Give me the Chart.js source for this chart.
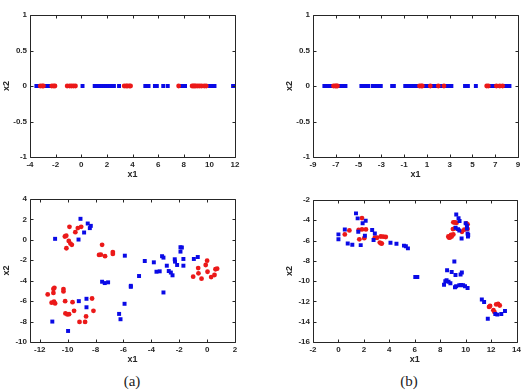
<!DOCTYPE html>
<html>
<head>
<meta charset="utf-8">
<script src="https://cdn.jsdelivr.net/npm/chart.js@4"></script>
<style>
  body { margin: 0; background: #fff; }
  #wrap { position: relative; width: 524px; height: 392px; overflow: hidden; }
  canvas { position: absolute; }
  .cap { position: absolute; font-family: "Liberation Serif", "DejaVu Serif", serif; font-size: 15px; color: #222; transform: translate(-50%, -50%); }
</style>
</head>
<body>
<div id="wrap">
  <canvas id="c1" width="245" height="180" style="left:0;top:0"></canvas>
  <canvas id="c2" width="241" height="180" style="left:283px;top:0"></canvas>
  <canvas id="c3" width="245" height="185" style="left:0;top:180px"></canvas>
  <canvas id="c4" width="241" height="185" style="left:283px;top:180px"></canvas>
  <div class="cap" style="left:132px;top:381px">(a)</div>
  <div class="cap" style="left:409px;top:381px">(b)</div>
</div>
<script>
// top row: 1-D points, all at x2 = 0
const redA1 = [-3.2, -3.05, -2.95, -2.3, -2.15, -2.05, -1.1, -0.9, -0.75, -0.6, -0.45,
  3.35, 3.5, 3.6, 3.75, 3.85, 7.6, 8.65, 8.75, 8.85, 8.95, 9.1, 9.25, 9.4, 9.6, 9.75];
const blueA1 = [-3.5, -3.4, -3.3, -3.1, -2.9, -2.6, -2.5, -2.4, -2.25, 0.1, 1.05, 1.25, 1.45,
  1.65, 1.8, 1.95, 2.1, 2.25, 2.4, 2.55, 2.95, 5.0, 5.25, 5.75, 5.9, 6.4, 6.75, 7.8, 7.95,
  8.1, 8.85, 9.2, 10.05, 10.2, 10.4, 11.85];

const redB1 = [-7.2, -7.05, -6.95, -6.85, 0.35, 0.5, 0.6, 1.3, 2.0, 2.5, 6.25, 6.4, 7.1, 7.4, 7.65];
const blueB1 = [-8.0, -7.8, -7.6, -7.45, -7.3, -6.6, -6.4, -6.15, -4.75, -4.55, -4.35, -4.15,
  -3.75, -3.55, -3.35, -3.05, -2.05, -1.9, -0.9, -0.7, -0.5, -0.3, -0.1, 0.1, 0.75, 0.95,
  1.15, 1.4, 1.6, 1.8, 2.05, 2.25, 2.45, 2.65, 2.9, 3.15, 4.35, 4.6, 5.3, 6.55, 6.75, 6.95,
  7.2, 7.5, 7.75, 8.0, 8.25];

// bottom row: 2-D points [x1, x2]
const redA2 = [[-9.87,1.28],[-9.03,1.28],[-9.27,1.15],[-9.45,0.75],[-10.2,0.33],[-10.1,0.4],
  [-9.92,-0.1],[-9.8,-0.36],[-9.7,-0.49],[-10.09,-0.82],
  [-7.53,-0.49],[-7.75,-1.48],[-7.62,-1.45],[-7.32,-1.6],[-6.76,-1.2],[-6.76,-1.38],
  [-10.95,-4.7],[-11.02,-4.8],[-10.3,-4.82],[-10.3,-5.05],[-11.02,-5.2],[-11.43,-5.34],
  [-11.15,-6.15],[-10.98,-6.05],[-10.9,-6.22],[-10.18,-6.0],[-9.65,-6.1],[-8.25,-5.74],
  [-8.15,-6.95],[-9.54,-6.95],[-10.16,-7.2],[-10.02,-7.3],[-9.9,-7.28],[-8.68,-7.5],
  [-9.15,-8.03],[-8.75,-8.03],
  [0.0,-2.04],[-0.1,-2.46],[-0.64,-2.76],[-1.0,-3.6],[-0.62,-3.28],[-0.4,-3.8],[0.03,-3.12],
  [0.29,-3.64],[0.53,-3.44],[0.6,-2.88],[0.72,-2.82]];
const blueA2 = [[-9.08,2.06],[-8.56,1.6],[-8.34,1.37],[-8.41,1.15],[-8.82,0.72],[-10.9,0.1],
  [-9.22,0.03],[-5.9,-1.55],[-7.53,-4.1],[-7.34,-4.23],[-7.1,-4.16],[-5.47,-4.5],[-5.47,-4.6],
  [-8.65,-5.77],[-9.2,-6.0],[-8.65,-6.6],[-5.92,-6.26],[-6.31,-7.25],[-6.21,-7.77],[-11.1,-8.0],
  [-9.97,-8.92],[-4.47,-2.07],[-3.82,-2.2],[-3.23,-1.6],[-3.13,-1.74],[-3.63,-3.12],[-3.4,-3.08],
  [-2.89,-2.53],[-2.75,-3.05],[-2.6,-3.2],[-2.48,-3.47],[-2.32,-1.9],[-2.3,-2.13],[-2.15,-2.46],
  [-1.91,-0.72],[-1.81,-0.75],[-1.91,-1.15],[-1.7,-1.87],[-1.7,-2.53],[-3.13,-5.15],[-4.88,-3.54],
  [-0.95,-1.87],[-0.67,-1.68]];

const redB2 = [[1.85,-3.78],[0.86,-5.0],[0.5,-5.39],[1.59,-4.95],[1.85,-4.9],[2.16,-4.9],
  [1.64,-5.88],[2.03,-5.76],[2.86,-5.72],[3.04,-5.72],[3.33,-5.6],[3.52,-5.62],[3.72,-5.65],
  [3.25,-6.2],[3.41,-6.3],[3.35,-6.28],
  [9.03,-4.2],[9.16,-4.22],[9.29,-4.25],[9.0,-4.87],[9.16,-4.8],[8.85,-5.45],[9.03,-5.39],
  [8.64,-5.6],[8.77,-5.7],[8.9,-5.6],[8.68,-5.7],[9.89,-4.93],[10.05,-4.3],[10.15,-4.85],
  [10.15,-4.4],[9.71,-5.13],
  [11.84,-12.54],[11.92,-12.44],[12.18,-12.87],[12.26,-13.04],[12.4,-12.3],[12.55,-12.25],[12.68,-12.4]];
const blueB2 = [[1.38,-3.32],[1.51,-3.81],[1.9,-4.3],[2.14,-4.05],[0.5,-4.9],[0.0,-5.39],[0.0,-5.88],
  [0.73,-6.28],[1.09,-6.42],[1.75,-6.45],[1.56,-5.13],[2.08,-5.52],[2.65,-4.96],[2.86,-5.3],
  [2.76,-5.95],[4.09,-6.22],[4.56,-6.32],[5.15,-6.5],[5.3,-6.55],[5.46,-6.77],
  [6.04,-9.6],[6.2,-9.6],[9.26,-3.42],[9.44,-3.8],[9.52,-4.07],[10.0,-4.3],[10.1,-4.54],
  [10.1,-4.8],[10.15,-5.3],[10.2,-5.45],[10.18,-5.6],[9.21,-4.73],[9.4,-4.87],[9.5,-5.0],[9.68,-5.79],
  [9.11,-8.06],[8.54,-8.92],[8.9,-9.1],[9.7,-9.15],[9.2,-9.4],[9.6,-9.35],[8.5,-9.9],[8.4,-10.0],
  [8.65,-10.05],[8.8,-10.2],[8.3,-10.35],[9.16,-10.6],[9.25,-10.5],[9.5,-10.4],[9.65,-10.38],
  [9.8,-10.4],[9.95,-10.5],[10.15,-10.67],
  [11.27,-11.8],[11.45,-12.05],[11.74,-13.7],[12.33,-13.24],[12.49,-13.3],[12.8,-13.24],[13.09,-12.94]];

// tick labels
const xTicksA1 = [-4, -2, 0, 2, 4, 6, 8, 10, 12];
const xTicksB1 = [-9, -7, -5, -3, -1, 1, 3, 5, 7, 9];
const yTicks1 = [-1, -0.5, 0, 0.5, 1];
const xTicksA2 = [-12, -10, -8, -6, -4, -2, 0, 2];
const yTicksA2 = [-10, -8, -6, -4, -2, 0, 2, 4];
const xTicksB2 = [-2, 0, 2, 4, 6, 8, 10, 12, 14];
const yTicksB2 = [-16, -14, -12, -10, -8, -6, -4, -2];

const RED = "rgb(235, 25, 25)";
const BLUE = "rgb(10, 10, 230)";
const AXIS = "#262626";

// matlab style box with inward ticks on all four sides
const boxPlugin = {
  id: "box",
  afterDraw(chart) {
    const { ctx, chartArea: a, scales: { x, y } } = chart;
    const L = Math.round(a.left) + 0.5, R = Math.round(a.right) + 0.5;
    const T = Math.round(a.top) + 0.5, B = Math.round(a.bottom) + 0.5;
    ctx.save();
    ctx.strokeStyle = AXIS;
    ctx.lineWidth = 1;
    ctx.beginPath();
    ctx.rect(L, T, R - L, B - T);
    x.ticks.forEach(t => {
      const px = Math.round(x.getPixelForValue(t.value)) + 0.5;
      ctx.moveTo(px, B); ctx.lineTo(px, B - 3);
      ctx.moveTo(px, T); ctx.lineTo(px, T + 3);
    });
    y.ticks.forEach(t => {
      const py = Math.round(y.getPixelForValue(t.value)) + 0.5;
      ctx.moveTo(L, py); ctx.lineTo(L + 3, py);
      ctx.moveTo(R, py); ctx.lineTo(R - 3, py);
    });
    ctx.stroke();
    ctx.restore();
  }
};

function toPoints1(arr) { return arr.map(v => ({ x: v, y: 0 })); }
function toPoints2(arr) { return arr.map(p => ({ x: p[0], y: p[1] })); }

function makeChart(id, blue, red, xr, xt, yr, yt, pad, redOnTop) {
  const tickFont = { family: "Liberation Sans, Arial, sans-serif", size: 8, weight: "bold" };
  const titleFont = { family: "Liberation Sans, Arial, sans-serif", size: 9, weight: "bold" };
  const noGrid = { display: false, drawTicks: false };
  return new Chart(document.getElementById(id), {
    type: "scatter",
    plugins: [boxPlugin],
    data: {
      datasets: [
        { label: "blue", data: blue, pointStyle: "rect", pointRadius: 2.8,
          backgroundColor: BLUE, borderWidth: 0, order: redOnTop ? 1 : 0 },
        { label: "red", data: red, pointStyle: "circle", pointRadius: 2.4,
          backgroundColor: RED, borderWidth: 0, order: redOnTop ? 0 : 1 },
      ],
    },
    options: {
      responsive: false,
      animation: false,
      devicePixelRatio: 1,
      layout: { padding: pad },
      plugins: { legend: { display: false }, tooltip: { enabled: false } },
      scales: {
        x: {
          type: "linear", min: xr[0], max: xr[1],
          grid: noGrid, border: { display: false },
          afterBuildTicks: s => { s.ticks = xt.map(v => ({ value: v })); },
          afterFit: s => { s.height = 23; },
          ticks: { font: tickFont, color: AXIS, padding: 3, maxRotation: 0, autoSkip: false,
                   callback: v => String(v) },
          title: { display: true, text: "x1", font: titleFont, color: AXIS, padding: { top: 0, bottom: 0 } },
        },
        y: {
          type: "linear", min: yr[0], max: yr[1],
          grid: noGrid, border: { display: false },
          afterBuildTicks: s => { s.ticks = yt.map(v => ({ value: v })); },
          afterFit: s => { s.width = 30; },
          ticks: { font: tickFont, color: AXIS, padding: 3, autoSkip: false,
                   callback: v => String(v) },
          title: { display: true, text: "x2", font: titleFont, color: AXIS, padding: { top: 1, bottom: 0 } },
        },
      },
    },
  });
}

makeChart("c1", toPoints1(blueA1), toPoints1(redA1), [-4, 12], xTicksA1, [-1, 1], yTicks1,
  { top: 15, right: 10, left: 0, bottom: 0 }, true);
makeChart("c2", toPoints1(blueB1), toPoints1(redB1), [-9, 9], xTicksB1, [-1, 1], yTicks1,
  { top: 15, right: 6, left: 0, bottom: 0 }, true);
makeChart("c3", toPoints2(blueA2), toPoints2(redA2), [-12.7, 2], xTicksA2, [-10, 4], yTicksA2,
  { top: 19, right: 10, left: 0, bottom: 0 }, false);
makeChart("c4", toPoints2(blueB2), toPoints2(redB2), [-2, 14], xTicksB2, [-16, -2], yTicksB2,
  { top: 20, right: 6, left: 0, bottom: 0 }, false);
</script>
</body>
</html>
